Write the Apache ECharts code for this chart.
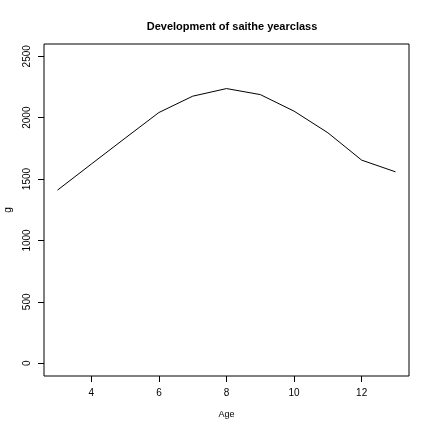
<!DOCTYPE html>
<html>
<head>
<meta charset="utf-8">
<script src="https://cdn.jsdelivr.net/npm/echarts@6/dist/echarts.min.js"></script>
<style>html,body{margin:0;padding:0;background:#fff}#c{width:432px;height:432px}</style>
</head>
<body>
<div id="c"></div>
<script>
var ages = [3, 4, 5, 6, 7, 8, 9, 10, 11, 12, 13];
var weights = [1410, 1622, 1833, 2042, 2175, 2237, 2188, 2053, 1877, 1654, 1559];
var xTicks = [4, 6, 8, 10, 12];
var yTicks = [0, 500, 1000, 1500, 2000, 2500];
var title = 'Development of saithe yearclass';

var chart = echarts.init(document.getElementById('c'), null, {renderer: 'canvas'});
var font = 'Liberation Sans, Arial, Helvetica, sans-serif';
function plain(v) { return String(v); }
chart.setOption({
  animation: false,
  backgroundColor: '#fff',
  title: {
    text: title, left: 227, top: 16, textAlign: 'center',
    textStyle: {fontFamily: font, fontSize: 11, fontWeight: 'bold', color: '#000'}
  },
  grid: {left: 44, right: 23, top: 44, bottom: 56, containLabel: false, outerBoundsMode: 'none',
    show: true, borderColor: '#000', borderWidth: 1, backgroundColor: 'transparent'},
  xAxis: {
    type: 'value', min: 2.6, max: 13.4,
    name: 'Age', nameLocation: 'middle', nameGap: 34,
    nameTextStyle: {fontFamily: font, fontSize: 9, color: '#000'},
    axisLine: {show: false, onZero: false},
    axisTick: {show: true, inside: false, length: 6, customValues: xTicks, lineStyle: {color: '#000', width: 1}},
    axisLabel: {customValues: xTicks, formatter: plain, fontFamily: font, fontSize: 10, color: '#000', margin: 12},
    splitLine: {show: false}
  },
  yAxis: {
    type: 'value', min: -104, max: 2600,
    name: 'g', nameLocation: 'middle', nameGap: 31,
    nameTextStyle: {fontFamily: font, fontSize: 10, color: '#000'},
    axisLine: {show: false, onZero: false},
    axisTick: {show: true, inside: false, length: 6, customValues: yTicks, lineStyle: {color: '#000', width: 1}},
    axisLabel: {customValues: yTicks, formatter: plain, rotate: 90, fontFamily: font, fontSize: 10, color: '#000', margin: 12},
    splitLine: {show: false}
  },
  series: [{
    type: 'line',
    data: ages.map(function (a, i) { return [a, weights[i]]; }),
    showSymbol: false, symbol: 'none',
    lineStyle: {color: '#000', width: 1},
    silent: true
  }]
});
</script>
</body>
</html>
